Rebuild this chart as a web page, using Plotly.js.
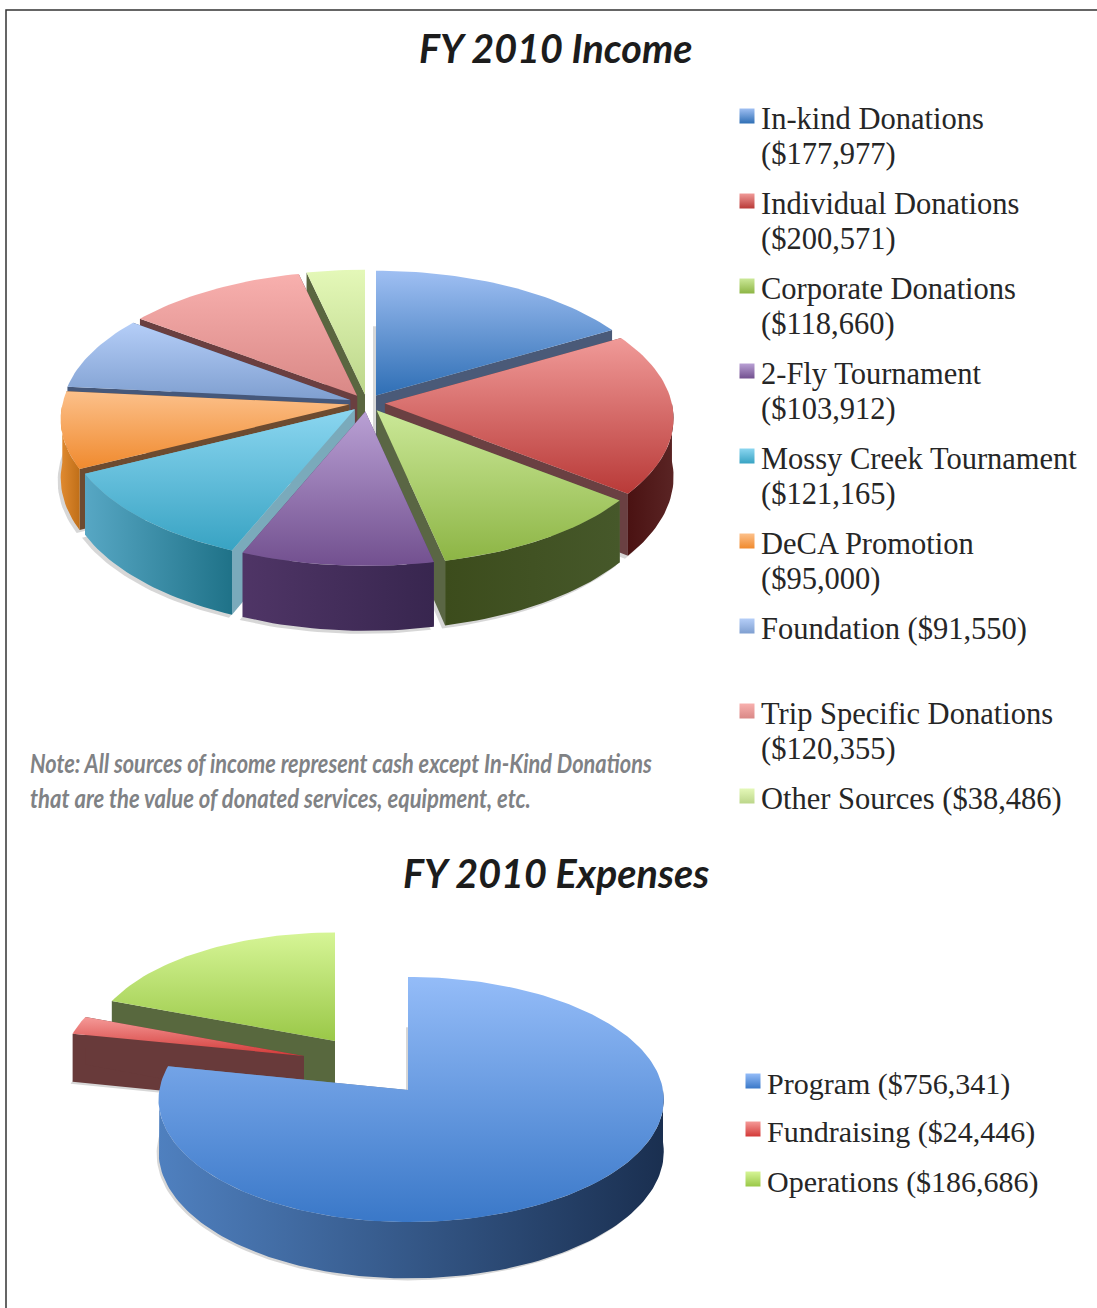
<!DOCTYPE html>
<html><head><meta charset="utf-8">
<script src="https://cdn.plot.ly/plotly-3.0.1.min.js"></script>
<style>html,body{margin:0;padding:0;background:#fff}#chart{width:1097px;height:1308px}</style>
</head><body><div id="chart"></div>
<script>
const incomeCategories = ['In-kind Donations','Individual Donations','Corporate Donations','2-Fly Tournament','Mossy Creek Tournament','DeCA Promotion','Foundation','Trip Specific Donations','Other Sources'];
const incomeValues = [177977,200571,118660,103912,121165,95000,91550,120355,38486];
const incomeOneLine = [false,false,false,false,false,false,true,false,true];
const expenseCategories = ['Program','Fundraising','Operations'];
const expenseValues = [756341,24446,186686];

const incomeTop = [['#9fbff2','#2f6fb5'],['#f09a98','#b93a38'],['#cbe898','#8db545'],['#b9a0d4','#72508f'],['#8bd6f0','#38a3c3'],['#fcc08a','#f08a2e'],['#b5cef8','#7f9fd0'],['#f8b0ae','#d98886'],['#e4f8b8','#bcd68a']];
const incomeArc = [['#2d4d7a','#2d4d7a'],['#4a1212','#5a2424'],['#3c4c1c','#46582a'],['#4f3566','#38264f'],['#57a7c4','#1f7288'],['#e08a30','#c06f18'],['#46587a','#46587a'],['#6a3f40','#6a3f40'],['#5a6640','#5a6640']];
const incomeEdge = ['#4a5a78','#6a4042','#5a6644','#56456e','#7aaabb','#6d4b30','#46587a','#6a3f40','#5a6640'];
const expenseTop = [['#94bcf8','#3a78c8'],['#f59a98','#d33a38'],['#d6f596','#9ac848']];
const expenseArc = [['#4f80bf','#1a2f50'],['#683a3a','#683a3a'],['#58683e','#58683e']];
const expenseEdge = ['#6a7f9f','#683a3a','#58683e'];

const traces = [];

function wedgeGeometry(pie, a0, a1, s){
  const off = s.off, sc = s.sc, ls = s.ls;
  const project = (ang, rad, z) => {
    const X = Math.sin(ang)*rad, Y = Math.cos(ang)*rad;
    const p = 1/(1+pie.k*Y);
    const rx = X<0 ? pie.R*ls : pie.R;
    return [pie.cx+off[0]+rx*sc*X*p, pie.cy+off[1]-pie.Rt*sc*Y*p+pie.h*sc*z*p];
  };
  const n = Math.max(2, Math.ceil((a1-a0)/(Math.PI/120)));
  const arcTop = [], arcBot = [];
  for(let i=0;i<=n;i++){const a=a0+(a1-a0)*i/n; arcTop.push(project(a,1,0)); arcBot.push(project(a,1,1));}
  const apexT = project(0,0,0), apexB = project(0,0,1);
  return {arcTop, arcBot, apexT, apexB, project, n};
}
function poly(pts, name, grad, hover){
  const xs = pts.map(p=>p[0]).concat(pts[0][0]);
  const ys = pts.map(p=>p[1]).concat(pts[0][1]);
  const t = {type:'scatter',mode:'lines',x:xs,y:ys,fill:'toself',line:{width:0},name:name,showlegend:false,hoverinfo:hover?'name':'skip',hoveron:'fills'};
  if(typeof grad==='string'){t.fillcolor=grad;}
  else{
    t.fillcolor=grad.c[0];
    const c = grad.type==='vertical' ? [grad.c[1],grad.c[0]] : grad.c;
    t.fillgradient={type:grad.type,colorscale:[[0,c[0]],[1,c[1]]]};
  }
  traces.push(t);
}
function drawPie(pie, values, cats, top, arc, edge){
  const total = values.reduce((a,b)=>a+b,0);
  let acc = 0;
  const slices = values.map((v,i)=>{
    const a0 = acc/total*2*Math.PI; acc += v; const a1 = acc/total*2*Math.PI;
    const mid=(a0+a1)/2;
    const off = pie.offsets ? pie.offsets[i] : [Math.sin(mid)*pie.pull, -Math.cos(mid)*pie.pull*pie.Rt/pie.R];
    const sc = pie.scales ? pie.scales[i] : 1;
    const ls = pie.leftScales ? pie.leftScales[i] : 1;
    return {i,a0,a1,mid,off,sc,ls};
  });
  slices.sort((a,b)=> pie.order ? pie.order.indexOf(a.i)-pie.order.indexOf(b.i) : Math.cos(b.mid)-Math.cos(a.mid));
  // soft shadows under the walls
  slices.forEach(s=>{
    const g = wedgeGeometry(pie,s.a0,s.a1,s);
    const sh = g.arcBot.concat([g.apexB]).map(p=>[p[0]+pie.shadow[0],p[1]+pie.shadow[1]]);
    poly(sh, cats[s.i]+' shadow','rgba(130,130,130,0.32)',false);
  });
  slices.forEach(s=>{
    const g = wedgeGeometry(pie,s.a0,s.a1,s);
    const e0 = g.arcTop[0], e0b = g.arcBot[0], e1 = g.arcTop[g.n], e1b = g.arcBot[g.n];
    poly([g.apexT,e0,e0b,g.apexB], cats[s.i]+' side', edge[s.i], false);
    poly([g.apexT,e1,e1b,g.apexB], cats[s.i]+' side', edge[s.i], false);
    // outer wall: only where the rim faces the viewer
    const lo = Math.max(s.a0, Math.PI/2), hi = Math.min(s.a1, 1.5*Math.PI);
    if(hi>lo){
      const w = wedgeGeometry(pie,lo,hi,s);
      poly(w.arcTop.concat(w.arcBot.slice().reverse()), cats[s.i]+' wall', {type:'horizontal',c:arc[s.i]}, false);
    }
    poly([g.apexT].concat(g.arcTop), cats[s.i], {type:'vertical',c:top[s.i]}, true);
  });
}

drawPie({cx:367,cy:403,R:287,Rt:138,k:0.106,h:58,pull:18,shadow:[-3,3]}, incomeValues, incomeCategories, incomeTop, incomeArc, incomeEdge);
drawPie({cx:408,cy:1090,R:255,Rt:121.8,k:0.0775,h:52,shadow:[-2,2],
  offsets:[[0,0],[-104,-34],[-73,-49]], scales:[1,0.94,0.96], leftScales:[0.975,1,1], order:[2,1,0]}, expenseValues, expenseCategories, expenseTop, expenseArc, expenseEdge);

const fmt = v => '($'+v.toLocaleString('en-US')+')';
const ann = [];
function addText(x,y,text,size){ann.push({xref:'x',yref:'y',x,y,text,showarrow:false,xanchor:'left',yanchor:'middle',font:{family:'"Liberation Serif", serif',size,color:'#262626'}});}
function addKey(x,y,name,c){traces.push({type:'scatter',mode:'markers',x:[x],y:[y],name,showlegend:false,hoverinfo:'name',
  marker:{symbol:'square',size:15,color:c[0],gradient:{type:'vertical',color:c[1]},line:{width:0}}});}

incomeCategories.forEach((c,i)=>{
  const y = 119+85*i;
  addKey(747,y-3,c,incomeTop[i]);
  if(incomeOneLine[i]) addText(759,y,c+' '+fmt(incomeValues[i]),30.5);
  else {addText(759,y,c,30.5); addText(759,y+35,fmt(incomeValues[i]),30.5);}
});
const expenseY = [1084,1132,1182];
expenseCategories.forEach((c,i)=>{
  addKey(753,expenseY[i]-3,c,expenseTop[i]);
  addText(765,expenseY[i],c+' '+fmt(expenseValues[i]),30);
});
const titleFont = {family:'Lato, sans-serif',size:39.5,color:'#1c1c1c'};
ann.push({xref:'x',yref:'y',x:556,y:47,text:'<b><i>FY 2010 Income</i></b>',showarrow:false,xanchor:'center',yanchor:'middle',font:titleFont});
ann.push({xref:'x',yref:'y',x:556,y:872,text:'<b><i>FY 2010 Expenses</i></b>',showarrow:false,xanchor:'center',yanchor:'middle',font:titleFont});
const noteFont = {family:'Lato, sans-serif',size:27,color:'#808285'};
const noteLines = ['Note: All sources of income represent cash except In-Kind Donations','that are the value of donated services, equipment, etc.'];
const noteWidths = [622,501];
noteLines.forEach((t,i)=>ann.push({xref:'x',yref:'y',x:28,y:762+35*i,text:'<b><i>'+t+'</i></b>',showarrow:false,xanchor:'left',yanchor:'middle',align:'left',width:noteWidths[i]+4,font:noteFont}));

const layout = {
  width:1097,height:1308,margin:{l:0,r:0,t:0,b:0},paper_bgcolor:'#fff',plot_bgcolor:'#fff',showlegend:false,
  xaxis:{range:[0,1097],visible:false,fixedrange:true},
  yaxis:{range:[1308,0],visible:false,fixedrange:true},
  annotations:ann,
  shapes:[{type:'path',xref:'x',yref:'y',path:'M6,1308 L6,10 L1097,10',line:{color:'#333',width:1.5}}]
};
Plotly.newPlot('chart',traces,layout,{displayModeBar:false}).then(()=>{
  // the reference note is set in a condensed face: narrow the real text to the same measure
  document.querySelectorAll('#chart .annotation-text').forEach(el=>{
    const k = noteLines.indexOf(el.textContent);
    if(k>=0){
      const x0 = parseFloat(el.getAttribute('x'))||0;
      const sx = noteWidths[k]/el.getComputedTextLength();
      el.removeAttribute('clip-path');
      el.style.clipPath = 'none';
      el.setAttribute('transform','translate('+x0+',0) scale('+sx+',1) translate('+(-x0)+',0)');
    }
  });
});
</script></body></html>
